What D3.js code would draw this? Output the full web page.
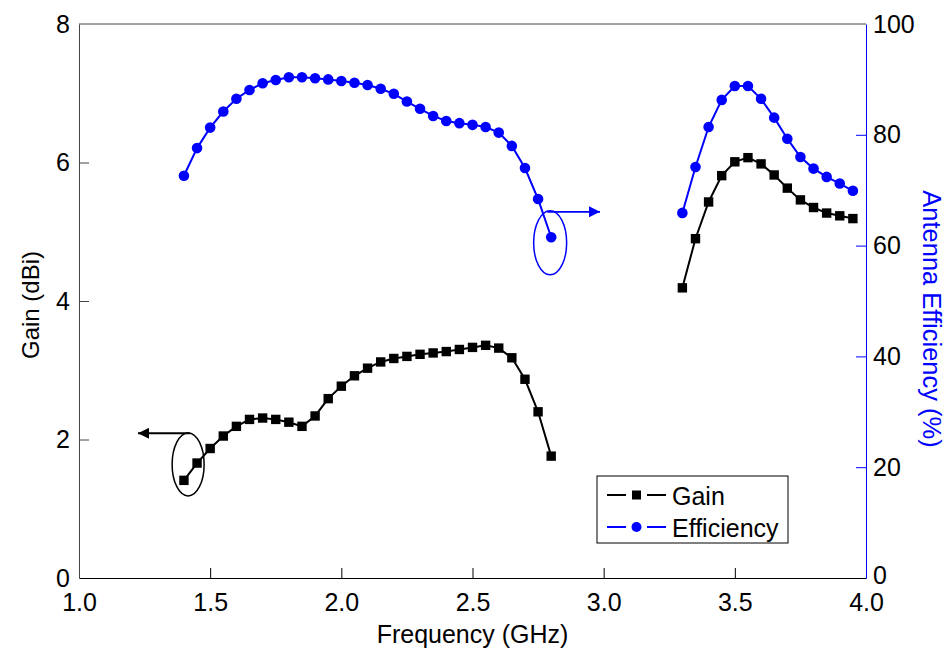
<!DOCTYPE html>
<html><head><meta charset="utf-8">
<script src="https://cdn.jsdelivr.net/npm/d3@7"></script>
<style>
html,body{margin:0;padding:0;background:#fff;}
text{font-family:"Liberation Sans",Arial,sans-serif;}
</style></head>
<body>
<svg id="c" width="951" height="653"></svg>
<script>
// ---- data ----
const freq1 = [1.40,1.45,1.50,1.55,1.60,1.65,1.70,1.75,1.80,1.85,1.90,1.95,2.00,2.05,2.10,2.15,2.20,2.25,2.30,2.35,2.40,2.45,2.50,2.55,2.60,2.65,2.70,2.75,2.80];
const gain1 = [1.41,1.66,1.87,2.05,2.19,2.29,2.31,2.29,2.25,2.19,2.34,2.59,2.77,2.92,3.03,3.12,3.17,3.20,3.23,3.25,3.27,3.30,3.33,3.36,3.32,3.18,2.87,2.40,1.76];
const eff1  = [72.6,77.6,81.3,84.2,86.5,88.1,89.3,89.9,90.4,90.4,90.2,90.0,89.7,89.4,89.0,88.3,87.4,86.0,84.7,83.4,82.5,82.1,81.8,81.4,80.4,78.0,74.0,68.4,61.5];
const freq2 = [3.30,3.35,3.40,3.45,3.50,3.55,3.60,3.65,3.70,3.75,3.80,3.85,3.90,3.95];
const gain2 = [4.19,4.90,5.43,5.81,6.01,6.07,5.98,5.82,5.63,5.46,5.35,5.27,5.23,5.19];
const eff2  = [65.9,74.2,81.4,86.3,88.8,88.8,86.5,83.1,79.3,76.0,73.9,72.4,71.2,69.9];
const xTicks = [1.0,1.5,2.0,2.5,3.0,3.5,4.0];
const gainTicks = [0,2,4,6,8];
const effTicks = [0,20,40,60,80,100];
const seriesNames = ["Gain","Efficiency"];

// ---- layout ----
const svg = d3.select("#c");
const L=79, R=866, T=24, B=578;
const x = d3.scaleLinear().domain([1,4]).range([L,R]);
const yG = d3.scaleLinear().domain([0,8]).range([B,T]);
const yE = d3.scaleLinear().domain([0,100]).range([B,T]);
const BLUE="#0000ff";
const FS=25;

// frame top
svg.append("line").attr("x1",L).attr("x2",R).attr("y1",T).attr("y2",T).attr("stroke","#444").attr("stroke-width",1);

// bottom axis
const ax = svg.append("g").attr("transform",`translate(0,${B})`)
  .call(d3.axisBottom(x).tickValues(xTicks).tickFormat(d3.format(".1f")).tickSizeInner(-10).tickSizeOuter(0).tickPadding(9));
ax.select(".domain").attr("stroke","#000").attr("stroke-width",1.2);
ax.selectAll(".tick line").attr("stroke","#000");
ax.selectAll(".tick text").attr("font-size",FS).attr("fill","#000").attr("dy","0.95em");
ax.selectAll(".tick").filter(d=>d===1||d===4).select("line").remove();

// left axis
const ayl = svg.append("g").attr("transform",`translate(${L},0)`)
  .call(d3.axisLeft(yG).tickValues(gainTicks).tickFormat(d3.format("d")).tickSizeInner(-10).tickSizeOuter(0).tickPadding(9));
ayl.select(".domain").attr("stroke","#444");
ayl.selectAll(".tick line").attr("stroke","#444");
ayl.selectAll(".tick text").attr("font-size",FS).attr("fill","#000");
ayl.selectAll(".tick").filter(d=>d===0||d===8).select("line").remove();

// right axis
const ayr = svg.append("g").attr("transform",`translate(${R},0)`)
  .call(d3.axisRight(yE).tickValues(effTicks).tickFormat(d3.format("d")).tickSizeInner(-10).tickSizeOuter(0).tickPadding(7));
ayr.select(".domain").attr("stroke",BLUE);
ayr.selectAll(".tick line").attr("stroke",BLUE);
ayr.selectAll(".tick text").attr("font-size",FS).attr("fill","#000");
ayr.selectAll(".tick").filter(d=>d===0||d===100).select("line").remove();
ayr.selectAll(".tick").filter(d=>d===0).select("text").attr("dy","0.22em");

// axis titles
svg.append("text").attr("x",(L+R)/2).attr("y",643).attr("text-anchor","middle").attr("font-size",FS).text("Frequency (GHz)");
svg.append("text").attr("transform",`translate(39,${(T+B)/2+4}) rotate(-90)`).attr("text-anchor","middle").attr("font-size",24).text("Gain (dBi)");
svg.append("text").attr("transform",`translate(923,${(T+B)/2+18}) rotate(90)`).attr("text-anchor","middle").attr("font-size",25.5).attr("fill",BLUE).text("Antenna Efficiency (%)");

// series
function drawGain(fs, gs){
  const d = fs.map((f,i)=>[f,gs[i]]);
  svg.append("path").datum(d).attr("fill","none").attr("stroke","#000").attr("stroke-width",2)
    .attr("d", d3.line().x(p=>x(p[0])).y(p=>yG(p[1])));
  svg.selectAll(null).data(d).enter().append("rect")
    .attr("x",p=>x(p[0])-4.7).attr("y",p=>yG(p[1])-4.7).attr("width",9.4).attr("height",9.4).attr("fill","#000");
}
function drawEff(fs, es){
  const d = fs.map((f,i)=>[f,es[i]]);
  svg.append("path").datum(d).attr("fill","none").attr("stroke",BLUE).attr("stroke-width",2)
    .attr("d", d3.line().x(p=>x(p[0])).y(p=>yE(p[1])));
  svg.selectAll(null).data(d).enter().append("circle")
    .attr("cx",p=>x(p[0])).attr("cy",p=>yE(p[1])).attr("r",5.3).attr("fill",BLUE);
}
drawGain(freq1,gain1); drawGain(freq2,gain2);
drawEff(freq1,eff1); drawEff(freq2,eff2);

// annotations (ellipses + arrows)
const defs = svg.append("defs");
function marker(id,col){
  defs.append("marker").attr("id",id).attr("viewBox","0 0 10 10").attr("refX",10).attr("refY",5)
    .attr("markerWidth",13).attr("markerHeight",11).attr("markerUnits","userSpaceOnUse").attr("orient","auto")
    .append("path").attr("d","M0,0 L10,5 L0,10 Z").attr("fill",col);
}
marker("ab","#000"); marker("au",BLUE);
svg.append("ellipse").attr("cx",x(1.416)).attr("cy",yG(1.64)).attr("rx",16).attr("ry",31.5)
  .attr("fill","none").attr("stroke","#000").attr("stroke-width",1.5);
svg.append("line").attr("x1",x(1.423)).attr("y1",yG(2.09)).attr("x2",x(1.225)).attr("y2",yG(2.09))
  .attr("stroke","#000").attr("stroke-width",1.8).attr("marker-end","url(#ab)");
svg.append("ellipse").attr("cx",x(2.796)).attr("cy",yE(60.5)).attr("rx",16.5).attr("ry",32)
  .attr("fill","none").attr("stroke",BLUE).attr("stroke-width",1.5);
svg.append("line").attr("x1",x(2.785)).attr("y1",yE(66.1)).attr("x2",x(2.986)).attr("y2",yE(66.1))
  .attr("stroke",BLUE).attr("stroke-width",1.8).attr("marker-end","url(#au)");

// legend
const lg = svg.append("g");
lg.append("rect").attr("x",597).attr("y",476).attr("width",191).attr("height",67).attr("fill","#fff").attr("stroke","#000").attr("stroke-width",1);
const rows=[{n:seriesNames[0],c:"#000",y:495,m:"sq"},{n:seriesNames[1],c:BLUE,y:527,m:"ci"}];
rows.forEach(r=>{
  lg.append("line").attr("x1",607).attr("x2",626).attr("y1",r.y).attr("y2",r.y).attr("stroke",r.c).attr("stroke-width",2);
  lg.append("line").attr("x1",647).attr("x2",666).attr("y1",r.y).attr("y2",r.y).attr("stroke",r.c).attr("stroke-width",2);
  if(r.m==="sq") lg.append("rect").attr("x",632).attr("y",r.y-4.5).attr("width",9).attr("height",9).attr("fill",r.c);
  else lg.append("circle").attr("cx",636.5).attr("cy",r.y).attr("r",5).attr("fill",r.c);
  lg.append("text").attr("x",672).attr("y",r.y+9.5).attr("font-size",FS).text(r.n);
});
</script>
</body></html>
